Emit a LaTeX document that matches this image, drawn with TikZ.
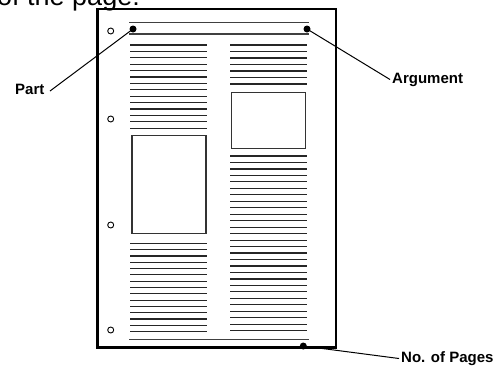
\documentclass[tikz,border=0pt]{standalone}
\usepackage{fontspec}
\setmainfont{Liberation Sans}
\begin{document}
\begin{tikzpicture}[x=1pt,y=-1pt,
  txtline/.style={draw=black!85,line width=1.2pt},
  rule/.style={draw=black!75,line width=1.1pt},
  figbox/.style={draw=black!80,line width=1.3pt},
  hole/.style={draw=black,line width=0.9pt},
  dot/.style={circle,fill=black,inner sep=0pt,minimum size=7pt},
  lbl/.style={font=\bfseries\fontsize{15}{17}\selectfont,inner sep=2pt},
  leader/.style={draw=black,line width=1pt}]
\useasboundingbox (0,0) rectangle (497,376);
% cropped heading
\node[anchor=base west,inner sep=0pt,font=\fontsize{27}{30}\selectfont] (hdr) at (-3,5) {of the page:};
% page
\draw[line width=2.3pt] (97.5,9) rectangle (336,347.5);
% holes
\foreach \y in {31,119,225,330} \draw[hole] (110.7,\y) circle (3pt);
% header rules
\draw[rule] (129,22.7) -- (309,22.7);
\draw[rule] (129,34) -- (309,34);
\draw[rule] (129,339.7) -- (309,339.7);
% left column
\foreach \i in {0,...,13} \draw[txtline] (130,45+6.4*\i) -- (207,45+6.4*\i);
\draw[figbox] (132,135.7) rectangle (206,233.3);
\foreach \i in {0,...,14} \draw[txtline] (130,243.3+6.31*\i) -- (207,243.3+6.31*\i);
% right column
\foreach \i in {0,...,6} \draw[txtline] (230,45+6.5*\i) -- (307,45+6.5*\i);
\draw[figbox] (231.7,92.3) rectangle (305.7,148.7);
\foreach \i in {0,...,27} \draw[txtline] (230,156+6.47*\i) -- (307,156+6.47*\i);
% dots
\node[dot] (dpart) at (133,29) {};
\node[dot] (darg) at (307,29) {};
\node[dot] (dpages) at (303.3,346) {};
% labels
\node[lbl,anchor=west] (part) at (13,89) {Part};
\node[lbl,anchor=west] (arg) at (390,79.5) {Argument};
\node[lbl,anchor=west] (pages) at (399,358.5) {No. of Pages};
\coordinate (partend) at (50,91);
\draw[leader] (dpart.center) -- (partend);
\draw[leader] (darg.center) -- (arg.west);
\draw[leader] (dpages.center) -- (pages.west);
\end{tikzpicture}
\end{document}
